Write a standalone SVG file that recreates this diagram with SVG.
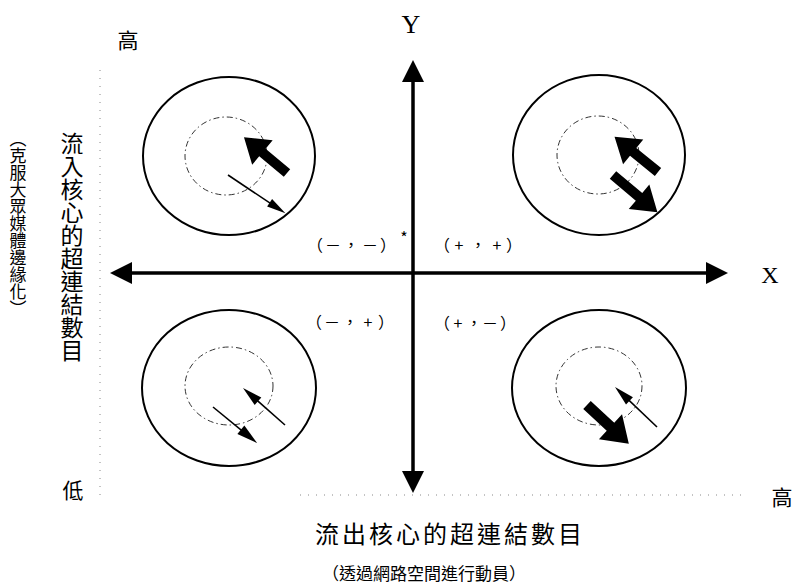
<svg xmlns="http://www.w3.org/2000/svg" width="802" height="587" viewBox="0 0 802 587">
<style>
.outer{fill:none;stroke:#000;stroke-width:2}
.inner{fill:none;stroke:#333;stroke-width:1;stroke-dasharray:6 3 1.5 3}
.axis{stroke:#000;stroke-width:3.5;fill:none}
.dot{stroke:#888;stroke-width:1;stroke-dasharray:1 7;fill:none}
.thin{stroke:#000;stroke-width:1.6;fill:none}
.blk{fill:#000}
.cjk{font-family:"Noto Sans CJK TC","Noto Sans CJK SC",sans-serif;fill:#000}
.lat{font-family:"Liberation Serif",serif;fill:#000}
.q{font-family:"Noto Sans CJK TC",sans-serif;font-size:16px;fill:#000;text-anchor:middle}
</style>
<rect width="802" height="587" fill="#fff"/>

<g id="guides">
<line class="dot" x1="100" y1="70" x2="100" y2="497"/>
<line class="dot" x1="300" y1="495" x2="745" y2="495"/>
</g>

<g id="connectors">
<line class="axis" x1="413" y1="80" x2="413" y2="472"/>
<polygon class="blk" points="413,60 402,82 424,82"/>
<polygon class="blk" points="413,493 402,471 424,471"/>
<line class="axis" x1="130" y1="273" x2="708" y2="273"/>
<polygon class="blk" points="110,273 132,262 132,284"/>
<polygon class="blk" points="728,273 706,262 706,284"/>
</g>

<g id="quadrant-top-left">
<ellipse class="outer" cx="229" cy="156" rx="86" ry="79"/>
<ellipse class="inner" cx="226" cy="156" rx="41" ry="39"/>
<g transform="translate(287,173) rotate(219.8)"><polygon class="blk" points="0,-5 32,-5 32,-16 56,0 32,16 32,5 0,5"/></g>
<g transform="translate(228,175) rotate(33.7)"><line class="thin" x1="0" y1="0" x2="56" y2="0"/><polygon class="blk" points="50,-4.5 69,0 50,4.5"/></g>
</g>

<g id="quadrant-top-right">
<ellipse class="outer" cx="599" cy="155" rx="86" ry="80"/>
<ellipse class="inner" cx="598" cy="155" rx="41" ry="39"/>
<g transform="translate(658,172) rotate(219.1)"><polygon class="blk" points="0,-5 32,-5 32,-16 56,0 32,16 32,5 0,5"/></g>
<g transform="translate(613,175) rotate(40)"><polygon class="blk" points="0,-5 34,-5 34,-16 58,0 34,16 34,5 0,5"/></g>
</g>

<g id="quadrant-bottom-left">
<ellipse class="outer" cx="229" cy="388" rx="87" ry="78"/>
<ellipse class="inner" cx="229" cy="386" rx="44" ry="39"/>
<g transform="translate(213,407) rotate(39.3)"><line class="thin" x1="0" y1="0" x2="42" y2="0"/><polygon class="blk" points="36,-5.5 57,0 36,5.5"/></g>
<g transform="translate(285,425) rotate(221.4)"><line class="thin" x1="0" y1="0" x2="42" y2="0"/><polygon class="blk" points="36,-5 56,0 36,5"/></g>
</g>

<g id="quadrant-bottom-right">
<ellipse class="outer" cx="599" cy="388" rx="87" ry="78"/>
<ellipse class="inner" cx="599" cy="386" rx="43" ry="39"/>
<g transform="translate(587,405) rotate(42.8)"><polygon class="blk" points="0,-5.5 32,-5.5 32,-17 57,0 32,17 32,5.5 0,5.5"/></g>
<g transform="translate(657,427) rotate(223.6)"><line class="thin" x1="0" y1="0" x2="44" y2="0"/><polygon class="blk" points="38,-5 58,0 38,5"/></g>
</g>

<g id="labels">
<text class="lat" x="411" y="33" font-size="26" text-anchor="middle">Y</text>
<text class="lat" x="770" y="283" font-size="24" text-anchor="middle">X</text>
<text class="cjk" x="128" y="48" font-size="21" text-anchor="middle">高</text>
<text class="cjk" x="73" y="498" font-size="21" text-anchor="middle">低</text>
<text class="cjk" x="782" y="505" font-size="21" text-anchor="middle">高</text>
<text class="cjk" font-size="23" style="writing-mode:vertical-rl" x="72" y="132">流入核心的超連結數目</text>
<text class="cjk" font-size="17" style="writing-mode:vertical-rl" x="18" y="130">（克服大眾媒體邊緣化）</text>
<text class="cjk" x="450" y="543" font-size="24" text-anchor="middle" letter-spacing="3">流出核心的超連結數目</text>
<text class="cjk" x="424" y="580" font-size="17" text-anchor="middle">（透過網路空間進行動員）</text>
<text class="q" x="315 333 351 370 388" y="251">（－，－）</text>
<text class="q" x="404" y="244" font-size="11">*</text>
<text class="q" x="442 459 478 497 514" y="251">（+，+）</text>
<text class="q" x="314 332 350 368 386" y="328">（－，+）</text>
<text class="q" x="442 458 474 490 508" y="329">（+，－）</text>
</g>
</svg>
